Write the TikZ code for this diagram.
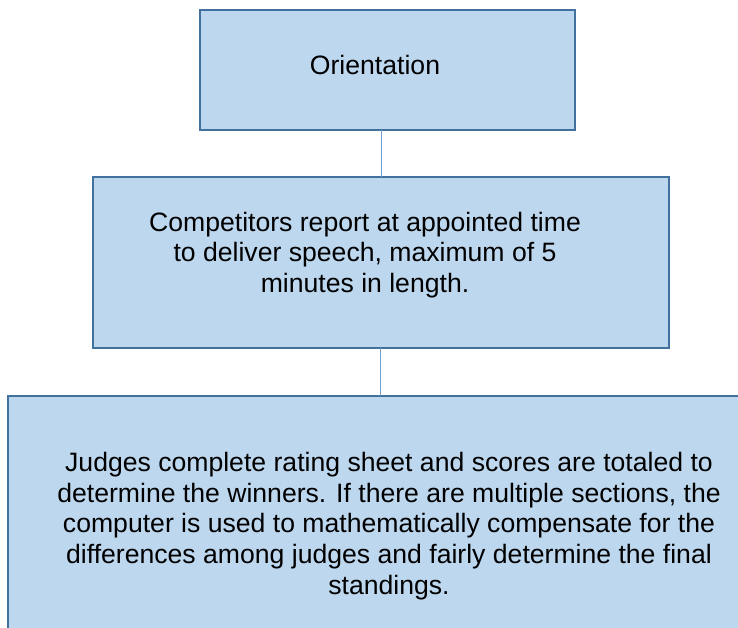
\documentclass[tikz,border=0pt]{standalone}
\usepackage{fontspec}
\setmainfont{Liberation Sans}
\definecolor{boxfill}{HTML}{BDD7EE}
\definecolor{boxline}{HTML}{41719C}
\definecolor{connline}{HTML}{6FA0D2}
\begin{document}
\begin{tikzpicture}[x=1pt,y=-1pt,
  stepbox/.style={draw=boxline, fill=boxfill, line width=2pt, rectangle, inner sep=0pt, outer sep=0pt, anchor=north west},
  txt/.style={align=center, font=\fontsize{26.6}{30.8}\selectfont, text=black, inner sep=0pt},
  conn/.style={draw=connline, line width=1pt}]
\useasboundingbox (0,0) rectangle (738,628);
\clip (0,0) rectangle (738,628);
\node[stepbox, minimum width=375pt, minimum height=120pt] (b1) at (200,10) {};
\node[stepbox, minimum width=576pt, minimum height=170pt] (b2) at (92.5,177.5) {};
\node[stepbox, minimum width=780pt, minimum height=280pt] (b3) at (7.5,395.5) {};
\coordinate (c1) at (381,0);
\coordinate (c2) at (380,0);
\draw[conn] (b1.south -| c1) -- (b2.north -| c1);
\draw[conn] (b2.south -| c2) -- (b3.north -| c2);
\node[txt] (t1) at (375,65) {Orientation};
\node[txt] (t2) at (365,255) {Competitors report at appointed time\\to deliver speech, maximum of 5\\minutes in length.};
\node[txt] (t3) at (389,526) {Judges complete rating sheet and scores are totaled to\\determine the winners. If there are multiple sections, the\\computer is used to mathematically compensate for the\\differences among judges and fairly determine the final\\standings.};
\end{tikzpicture}
\end{document}
